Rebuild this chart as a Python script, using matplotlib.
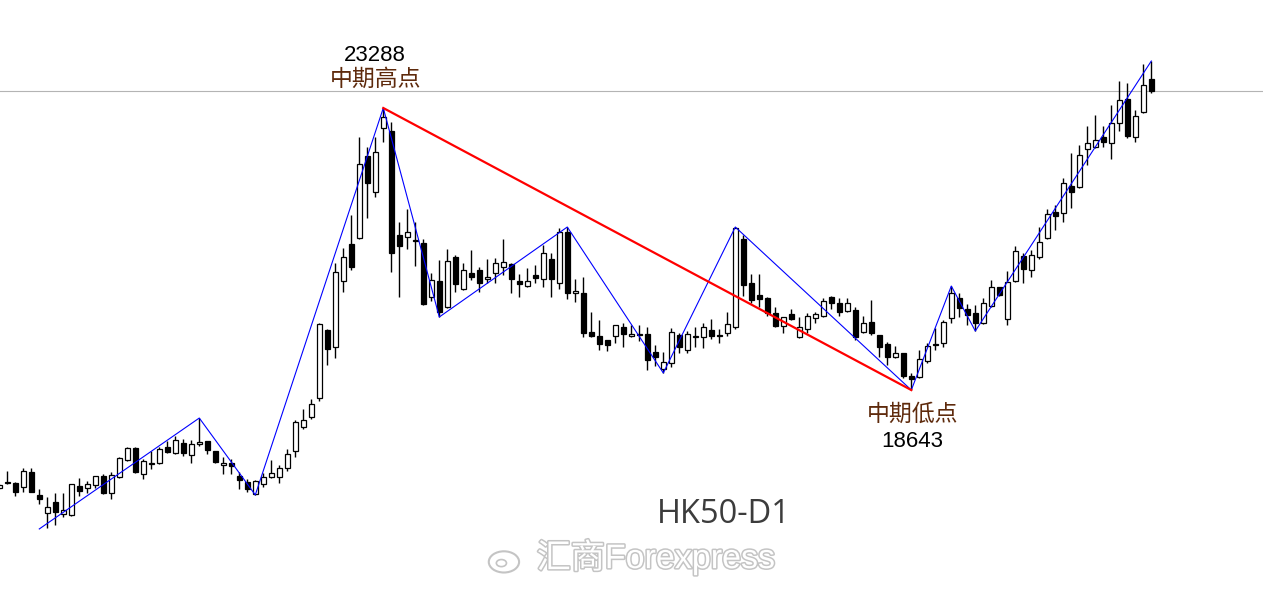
import numpy as np
import matplotlib
matplotlib.use("Agg")
import matplotlib.pyplot as plt
import matplotlib.patheffects as pe
from matplotlib.patches import Ellipse

# HK50 daily candles
opens = [
    17029, 17128, 17112, 17046, 17293, 16915, 16618, 16799, 16601, 16585,
    17062, 17029, 17079, 17227, 16948, 17211, 17491, 17688, 17260, 17425,
    17442, 17705, 17607, 17771, 17574, 17754, 17804, 17640, 17409, 17442,
    17227, 17128, 16931, 17095, 17211, 17211, 17359, 17640, 18034, 18199,
    18512, 19632, 19352, 20439, 21048, 21147, 22498, 21905, 22959, 22910,
    21197, 21164, 21114, 21065, 20176, 20439, 20011, 20834, 20307, 20571,
    20620, 20472, 20571, 20670, 20719, 20439, 20356, 20538, 20472, 20801,
    20406, 21246, 20241, 20241, 19599, 19533, 19467, 19533, 19681, 19533,
    19566, 19566, 19269, 18989, 19089, 19549, 19302, 19516, 19516, 19632,
    19549, 19582, 19681, 21130, 20406, 20209, 20159, 19912, 19698, 19895,
    19516, 19648, 19829, 19862, 20176, 20077, 19945, 19961, 19599, 19764,
    19549, 19401, 19187, 19253, 18874, 18858, 19122, 19401, 19418, 19829,
    20159, 19978, 19912, 19748, 20027, 20340, 19813, 20439, 20851, 20620,
    20834, 21147, 21575, 21559, 22003, 21987, 22613, 22646, 22810, 22712,
    23041, 23437, 22810, 23222, 23766]
highs = [
    17095, 17310, 17128, 17359, 17359, 17013, 16882, 16948, 16948, 17095,
    17194, 17145, 17227, 17260, 17293, 17541, 17705, 17705, 17508, 17640,
    17705, 17804, 17886, 17837, 17820, 18182, 17804, 17640, 17541, 17508,
    17293, 17178, 17161, 17277, 17491, 17409, 17672, 18150, 18331, 18496,
    19748, 19648, 20736, 20983, 21526, 22810, 22646, 22810, 23288, 23058,
    21411, 21624, 21411, 21130, 20571, 20785, 20966, 20868, 20736, 20950,
    20670, 20801, 20818, 21130, 20736, 20554, 20653, 20703, 21032, 20901,
    21312, 21328, 20472, 20505, 19928, 19797, 19467, 19715, 19748, 19715,
    19715, 19681, 19385, 19269, 19665, 19582, 19615, 19681, 19748, 19813,
    19648, 19928, 21328, 21197, 20554, 20554, 20176, 20011, 19846, 19978,
    19846, 19912, 19928, 20159, 20192, 20159, 20159, 20011, 19862, 20126,
    19549, 19434, 19368, 19253, 18924, 19302, 19418, 19665, 19797, 20356,
    20241, 20060, 20044, 20159, 20455, 20340, 20604, 21015, 20901, 20950,
    21329, 21624, 21690, 22135, 22548, 22679, 22992, 23173, 22992, 23338,
    23733, 23700, 23255, 24013, 24062]
lows = [
    17013, 17095, 16898, 16964, 16964, 16766, 16371, 16421, 16552, 16568,
    16898, 16948, 17029, 16931, 16849, 17194, 17475, 17277, 17178, 17343,
    17425, 17607, 17590, 17557, 17442, 17721, 17590, 17442, 17260, 17260,
    17013, 16964, 16915, 17046, 17194, 17112, 17310, 17541, 18001, 18166,
    18463, 19056, 19170, 20258, 20620, 21130, 21477, 21823, 22728, 20587,
    20176, 20966, 20686, 20044, 20110, 19846, 19994, 20258, 20291, 20455,
    20258, 20406, 20406, 20538, 20241, 20176, 20340, 20406, 20340, 20176,
    20307, 20143, 20093, 19516, 19516, 19302, 19286, 19418, 19352, 19516,
    19451, 18973, 19039, 18924, 19023, 19253, 19253, 19352, 19335, 19483,
    19418, 19533, 19648, 20192, 20077, 20011, 19862, 19681, 19582, 19797,
    19500, 19582, 19747, 19846, 19978, 19862, 19928, 19467, 19582, 19549,
    19187, 19056, 19170, 18841, 18643, 18841, 19089, 19302, 19352, 19748,
    19846, 19715, 19615, 19731, 20011, 20192, 19715, 20422, 20406, 20505,
    20801, 21130, 21279, 21411, 21641, 21970, 22349, 22629, 22646, 22448,
    22910, 22794, 22728, 23206, 23535]
closes = [
    17079, 17112, 16964, 17310, 16964, 16849, 16717, 16634, 16667, 17095,
    16981, 17095, 17227, 16948, 17244, 17524, 17688, 17293, 17475, 17442,
    17672, 17623, 17820, 17607, 17754, 17787, 17656, 17458, 17442, 17392,
    17161, 17013, 17145, 17211, 17277, 17359, 17590, 18117, 18150, 18413,
    19731, 19318, 20587, 20834, 20670, 22366, 22053, 22564, 23140, 20901,
    21015, 21246, 21098, 20060, 20455, 19928, 20769, 20389, 20620, 20505,
    20406, 20505, 20736, 20752, 20472, 20389, 20439, 20488, 20901, 20472,
    21246, 20241, 20275, 19582, 19533, 19401, 19385, 19715, 19566, 19566,
    19549, 19138, 19187, 19105, 19599, 19352, 19566, 19533, 19681, 19533,
    19533, 19731, 21312, 20373, 20126, 20143, 19912, 19698, 19846, 19813,
    19681, 19862, 19895, 20110, 20077, 19928, 20077, 19516, 19747, 19582,
    19352, 19187, 19253, 18874, 18825, 19154, 19368, 19385, 19764, 20241,
    19994, 19879, 19748, 20077, 20340, 20209, 20422, 20934, 20637, 20868,
    21081, 21542, 21509, 22053, 21905, 22514, 22712, 22761, 22728, 23041,
    23420, 22827, 23157, 23667, 23568]
assert len(opens) == len(highs) == len(lows) == len(closes) == 145

# zigzag swing points (bar index, price)
zz_idx = [5, 25, 32, 48, 55, 71, 83, 92, 114, 119, 122, 144]
zz_price = [16355, 18182, 16915, 23288, 19846, 21328, 18924, 21328, 18643, 20356, 19615, 24062]

# medium-term high / low
hi_idx, lo_idx = 48, 114

o = np.array(opens); h = np.array(highs); l = np.array(lows); c = np.array(closes)
x = np.arange(len(o))

fig = plt.figure(figsize=(12.63, 5.89), dpi=100)
ax = fig.add_axes([0, 0, 1, 1])
ax.set_xlim(0.09, 157.96)
ax.set_ylim(15366, 25067)
ax.axis('off')

# last price line
ax.axhline(c[-1], color='#b4b4b4', lw=0.8, zorder=1)

# wicks then bodies
ax.vlines(x, l, h, color='black', lw=1.0, zorder=2)
up = c >= o
body_bot = np.minimum(o, c)
body_h = np.abs(c - o)
ax.bar(x[up], body_h[up], bottom=body_bot[up], width=0.62,
       color='white', edgecolor='black', linewidth=0.9, zorder=3)
ax.bar(x[~up], body_h[~up], bottom=body_bot[~up], width=0.62,
       color='black', edgecolor='black', linewidth=0.9, zorder=3)

# zigzag + trend line between the two swing extremes
ax.plot(zz_idx, zz_price, color='#0000ff', lw=0.8, zorder=4)
ax.plot([hi_idx, lo_idx], [h[hi_idx], l[lo_idx]], color='#ff0000', lw=1.6, zorder=5)

cjk = ['Noto Sans CJK SC', 'DejaVu Sans']
brown = '#5e2a0c'
ax.annotate(f'{h[hi_idx]:.0f}', (hi_idx, h[hi_idx]), xytext=(-8, 53),
            textcoords='offset pixels', ha='center', va='center',
            fontsize=16, family='Liberation Sans', color='black')
ax.annotate('中期高点', (hi_idx, h[hi_idx]), xytext=(-8, 29),
            textcoords='offset pixels', ha='center', va='center',
            fontsize=16.5, family=cjk, color=brown)
ax.annotate('中期低点', (lo_idx, l[lo_idx]), xytext=(1, -24),
            textcoords='offset pixels', ha='center', va='center',
            fontsize=16.5, family=cjk, color=brown)
ax.annotate(f'{l[lo_idx]:.0f}', (lo_idx, l[lo_idx]), xytext=(1, -51),
            textcoords='offset pixels', ha='center', va='center',
            fontsize=16, family='Liberation Sans', color='black')

fig.text(0.573, 0.126, 'HK50-D1', ha='center', va='center',
         fontsize=23.5, family='Open Sans', color='#3c3c3c')

# watermark
wm = fig.text(0.425, 0.054, '汇商Forexpress', ha='left', va='center',
              fontsize=24.5, family=['Liberation Sans', 'Noto Sans CJK SC'],
              color='white')
wm.set_path_effects([pe.withStroke(linewidth=2.2, foreground='#c4c4c4')])
fig.patches.append(Ellipse((0.399, 0.046), 0.024, 0.036, fill=False,
                           edgecolor='#c4c4c4', lw=1.5, transform=fig.transFigure))
fig.patches.append(Ellipse((0.397, 0.044), 0.008, 0.012, fill=False,
                           edgecolor='#c4c4c4', lw=1.2, transform=fig.transFigure))

fig.savefig('out.png', dpi=100, facecolor='white')
